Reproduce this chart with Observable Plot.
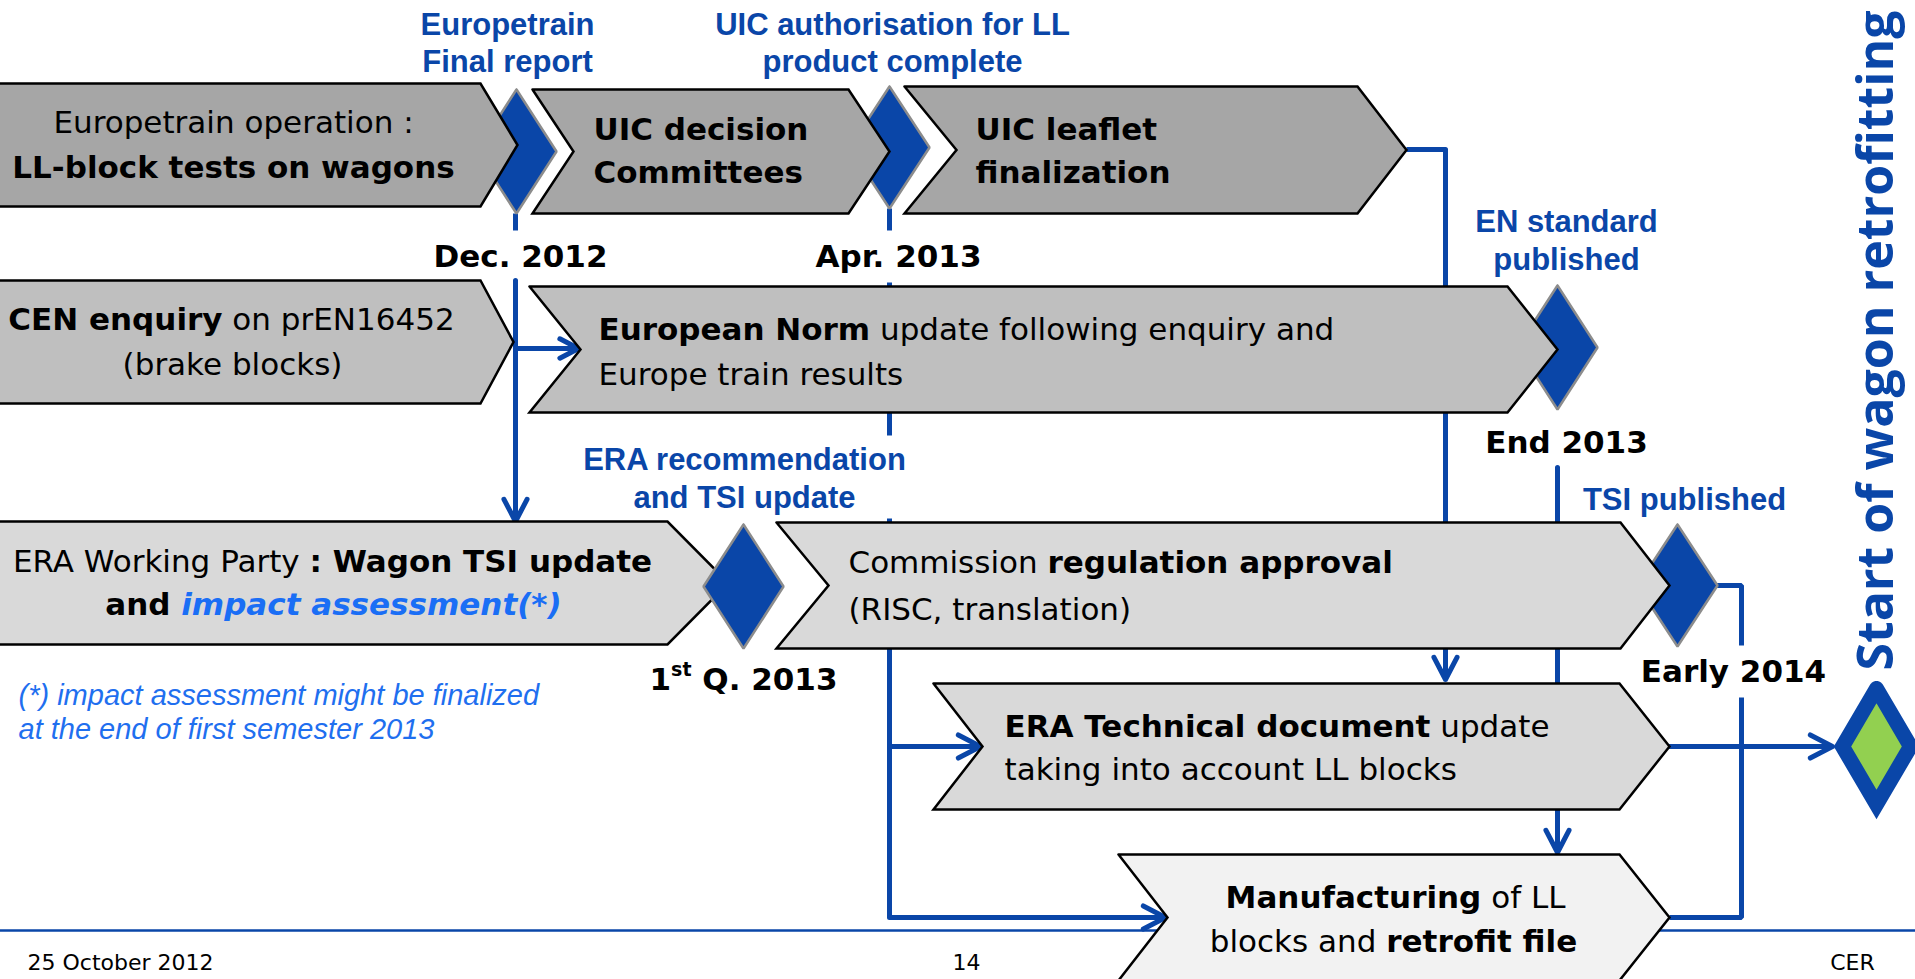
<!DOCTYPE html>
<html><head><meta charset="utf-8">
<script src="https://cdn.jsdelivr.net/npm/d3@7"></script>
<script src="https://cdn.jsdelivr.net/npm/@observablehq/plot@0.6"></script>
<style>html,body{margin:0;padding:0;background:#fff;overflow:hidden}svg{display:block}</style>
</head><body><div id="chart"></div>
<script>
const W = 1915, H = 979;

// ---- diagram data (pixel geometry of the process chart) ----
const boxes = [
  {name:"Europetrain operation", left:-6, notch:null, shoulder:480, tip:517, top:83, bottom:206, tone:"dark"},
  {name:"UIC decision", left:532, notch:573, shoulder:848, tip:889, top:89, bottom:213, tone:"dark"},
  {name:"UIC leaflet", left:904, notch:956, shoulder:1357, tip:1406, top:86, bottom:213, tone:"dark"},
  {name:"CEN enquiry", left:-6, notch:null, shoulder:480, tip:513, top:280, bottom:403, tone:"mid"},
  {name:"European Norm", left:529, notch:580, shoulder:1507, tip:1557, top:286, bottom:412, tone:"mid"},
  {name:"ERA Working Party", left:-6, notch:null, shoulder:667, tip:728, top:521, bottom:644, tone:"light"},
  {name:"Commission", left:776, notch:828, shoulder:1620, tip:1669, top:522, bottom:648, tone:"light"},
  {name:"ERA Technical", left:933, notch:982, shoulder:1619, tip:1669, top:683, bottom:809, tone:"light"},
  {name:"Manufacturing", left:1118, notch:1167, shoulder:1619, tip:1669, top:854, bottom:980, tone:"pale"}
];
const milestones = [
  {name:"Dec. 2012", cx:516, cy:151, hw:40, hh:62, layer:"under"},
  {name:"Apr. 2013", cx:889, cy:147, hw:40, hh:61, layer:"under"},
  {name:"End 2013", cx:1557, cy:347, hw:40, hh:62, layer:"under"},
  {name:"Early 2014", cx:1677, cy:585, hw:40, hh:61, layer:"under"},
  {name:"1st Q. 2013", cx:743, cy:586, hw:40, hh:62, layer:"over"}
];
const goal = [{name:"Start of wagon retrofitting", cx:1876, cy:746, hw:34, hh:58}];

const connectorPaths = [
  {id:"dec-tick", pts:[[515,213],[515,230]]},
  {id:"apr-tick", pts:[[889,208],[889,230]]},
  {id:"apr-mid", pts:[[889,282],[889,435]]},
  {id:"apr-low", pts:[[889,518],[889,917],[1000,917]]},
  {id:"uic-out", pts:[[1406,149],[1445,149],[1445,300]]},
  {id:"tsi-out", pts:[[1716,585],[1741,585],[1741,645]]},
  {id:"tsi-low", pts:[[1741,697],[1741,917],[1669,917]]}
];
const connectorArrows = [
  {x1:515, y1:280, x2:515, y2:521},
  {x1:515, y1:348, x2:578, y2:348},
  {x1:889, y1:746, x2:980, y2:746},
  {x1:889, y1:917, x2:1165, y2:917},
  {x1:1445, y1:149, x2:1445, y2:679},
  {x1:1557, y1:467, x2:1557, y2:852},
  {x1:1669, y1:746, x2:1832, y2:746}
];
const footerRule = [{x1:0, x2:W, y:930}];

// texts
const boxLines = [
  {x:233, y:123, align:"middle", segs:[["r","Europetrain operation :"]]},
  {x:233, y:168, align:"middle", segs:[["b","LL-block tests on wagons"]]},
  {x:593, y:130, align:"start", segs:[["b","UIC decision"]]},
  {x:593, y:173, align:"start", segs:[["b","Committees"]]},
  {x:975, y:130, align:"start", segs:[["b","UIC leaflet"]]},
  {x:975, y:173, align:"start", segs:[["b","finalization"]]},
  {x:231, y:320, align:"middle", segs:[["b","CEN enquiry"],["r"," on prEN16452"]]},
  {x:232, y:365, align:"middle", segs:[["r","(brake blocks)"]]},
  {x:598, y:330, align:"start", segs:[["b","European Norm"],["r"," update following enquiry and"]]},
  {x:598, y:375, align:"start", segs:[["r","Europe train results"]]},
  {x:332, y:562, align:"middle", segs:[["r","ERA Working Party "],["b",": Wagon TSI update"]]},
  {x:333, y:605, align:"middle", segs:[["b","and "],["bi","impact assessment(*)"]]},
  {x:848, y:563, align:"start", segs:[["r","Commission "],["b","regulation approval"]]},
  {x:848, y:610, align:"start", segs:[["r","(RISC, translation)"]]},
  {x:1004, y:727, align:"start", segs:[["b","ERA Technical document"],["r"," update"]]},
  {x:1004, y:770, align:"start", segs:[["r","taking into account LL blocks"]]},
  {x:1395, y:898, align:"middle", segs:[["b","Manufacturing"],["r"," of LL"]]},
  {x:1393, y:942, align:"middle", segs:[["r","blocks and "],["b","retrofit file"]]},
  // date labels
  {x:520, y:257, align:"middle", segs:[["b","Dec. 2012"]]},
  {x:898, y:257, align:"middle", segs:[["b","Apr. 2013"]]},
  {x:1566, y:443, align:"middle", segs:[["b","End 2013"]]},
  {x:1733, y:672, align:"middle", segs:[["b","Early 2014"]]},
  {x:743, y:680, align:"middle", segs:[["b","1"],["sup","st"],["b"," Q. 2013"]]}
];
const milestoneLabels = [
  {x:507, y:25, text:"Europetrain"},
  {x:507, y:62, text:"Final report"},
  {x:892, y:25, text:"UIC authorisation for LL"},
  {x:892, y:62, text:"product complete"},
  {x:1566, y:222, text:"EN standard"},
  {x:1566, y:260, text:"published"},
  {x:744, y:460, text:"ERA recommendation"},
  {x:744, y:498, text:"and TSI update"},
  {x:1684, y:500, text:"TSI published"}
];
const footnotes = [
  {x:18, y:695, text:"(*) impact assessment might be finalized"},
  {x:18, y:729, text:"at the end of first semester 2013"}
];
const footer = [
  {x:27, y:954, text:"25 October 2012", anchor:"start"},
  {x:966, y:954, text:"14", anchor:"middle"},
  {x:1852, y:954, text:"CER", anchor:"middle"}
];
const sideTitle = [{x:1876, y:340, text:"Start of wagon retrofitting"}];

// ---- styles ----
const TONES = {dark:"#a6a6a6", mid:"#bfbfbf", light:"#d9d9d9", pale:"#f2f2f2"};
const BLUE = "#0a46a8";
const STY = {
  r:   {family:"DejaVu Sans", weight:400, italic:false, size:31, fill:"#000", dy:0},
  b:   {family:"DejaVu Sans", weight:700, italic:false, size:31, fill:"#000", dy:0},
  bi:  {family:"DejaVu Sans", weight:700, italic:true,  size:31, fill:"#1a6ef5", dy:0},
  sup: {family:"DejaVu Sans", weight:700, italic:false, size:19, fill:"#000", dy:-11}
};

// ---- helpers ----
function boxPoly(b) {
  const m = (b.top + b.bottom) / 2;
  const p = [[b.left,b.top],[b.shoulder,b.top],[b.tip,m],[b.shoulder,b.bottom],[b.left,b.bottom]];
  if (b.notch != null) p.push([b.notch, m]);
  p.push([b.left,b.top]);
  return p.map(([x,y]) => ({x,y}));
}
function diamondPoly(d) {
  return [[d.cx,d.cy-d.hh],[d.cx+d.hw,d.cy],[d.cx,d.cy+d.hh],[d.cx-d.hw,d.cy],[d.cx,d.cy-d.hh]].map(([x,y])=>({x,y}));
}
const ctx = document.createElement("canvas").getContext("2d");
function measure(t, s) {
  ctx.font = `${s.italic ? "italic " : ""}${s.weight} ${s.size}px '${s.family}'`;
  return ctx.measureText(t).width;
}
const textRows = [];
for (const line of boxLines) {
  const total = d3.sum(line.segs, ([k,t]) => measure(t, STY[k]));
  let cur = line.align === "middle" ? line.x - total/2 : line.x;
  for (const [k,t] of line.segs) {
    const s = STY[k];
    const lead = t.match(/^\s*/)[0];
    textRows.push({x: cur + measure(lead, s), y: line.y + s.dy, text: t.trim(), k});
    cur += measure(t, s);
  }
}

const marks = [];
marks.push(Plot.ruleY(footerRule, {x1:"x1", x2:"x2", y:"y", stroke:BLUE, strokeWidth:2.5}));
const pathRows = connectorPaths.flatMap(c => c.pts.map(([x,y]) => ({id:c.id, x, y})));
marks.push(Plot.line(pathRows, {x:"x", y:"y", z:"id", stroke:BLUE, strokeWidth:5, strokeLinejoin:"miter", strokeLinecap:"butt", curve:"linear"}));
marks.push(Plot.arrow(connectorArrows, {x1:"x1", y1:"y1", x2:"x2", y2:"y2", stroke:BLUE, strokeWidth:5, headLength:7.5, headAngle:55}));
for (const d of milestones.filter(d => d.layer === "under"))
  marks.push(Plot.line(diamondPoly(d), {x:"x", y:"y", fill:BLUE, stroke:"#8c8c8c", strokeWidth:2.5, strokeLinejoin:"miter", curve:"linear"}));
for (const b of boxes)
  marks.push(Plot.line(boxPoly(b), {x:"x", y:"y", fill:TONES[b.tone], stroke:"#000", strokeWidth:2.5, strokeLinejoin:"miter", strokeMiterlimit:10, curve:"linear"}));
for (const d of milestones.filter(d => d.layer === "over"))
  marks.push(Plot.line(diamondPoly(d), {x:"x", y:"y", fill:BLUE, stroke:"#8c8c8c", strokeWidth:2.5, strokeLinejoin:"miter", curve:"linear"}));
for (const g of goal)
  marks.push(Plot.line(diamondPoly(g), {x:"x", y:"y", fill:"#92d050", stroke:BLUE, strokeWidth:15, strokeLinejoin:"miter", strokeMiterlimit:10, curve:"linear"}));

for (const k of Object.keys(STY)) {
  const s = STY[k];
  marks.push(Plot.text(textRows.filter(r => r.k === k), {x:"x", y:"y", text:"text", textAnchor:"start", lineAnchor:"middle",
    fontFamily:s.family, fontWeight:s.weight, fontStyle:s.italic ? "italic" : "normal", fontSize:s.size, fill:s.fill}));
}
marks.push(Plot.text(milestoneLabels, {x:"x", y:"y", text:"text", textAnchor:"middle", lineAnchor:"middle",
  fontFamily:"Liberation Sans", fontWeight:700, fontSize:31, fill:BLUE}));
marks.push(Plot.text(footnotes, {x:"x", y:"y", text:"text", textAnchor:"start", lineAnchor:"middle",
  fontFamily:"Liberation Sans", fontStyle:"italic", fontSize:29, fill:"#1f6fef"}));
marks.push(Plot.text(footer.filter(d=>d.anchor==="start"), {x:"x", y:"y", text:"text", textAnchor:"start", lineAnchor:"top",
  fontFamily:"DejaVu Sans", fontSize:22, fill:"#000"}));
marks.push(Plot.text(footer.filter(d=>d.anchor==="middle"), {x:"x", y:"y", text:"text", textAnchor:"middle", lineAnchor:"top",
  fontFamily:"DejaVu Sans", fontSize:22, fill:"#000"}));
marks.push(Plot.text(sideTitle, {x:"x", y:"y", text:"text", rotate:-90, textAnchor:"middle", lineAnchor:"middle",
  fontFamily:"Open Sans", fontWeight:700, fontSize:50, fill:BLUE}));

const svg = Plot.plot({
  width: W, height: H, margin: 0,
  x: {domain:[0,W], range:[0,W], axis:null},
  y: {domain:[0,H], range:[0,H], axis:null},
  style: {background:"#fff"},
  marks
});
document.getElementById("chart").appendChild(svg);
</script>
</body></html>
